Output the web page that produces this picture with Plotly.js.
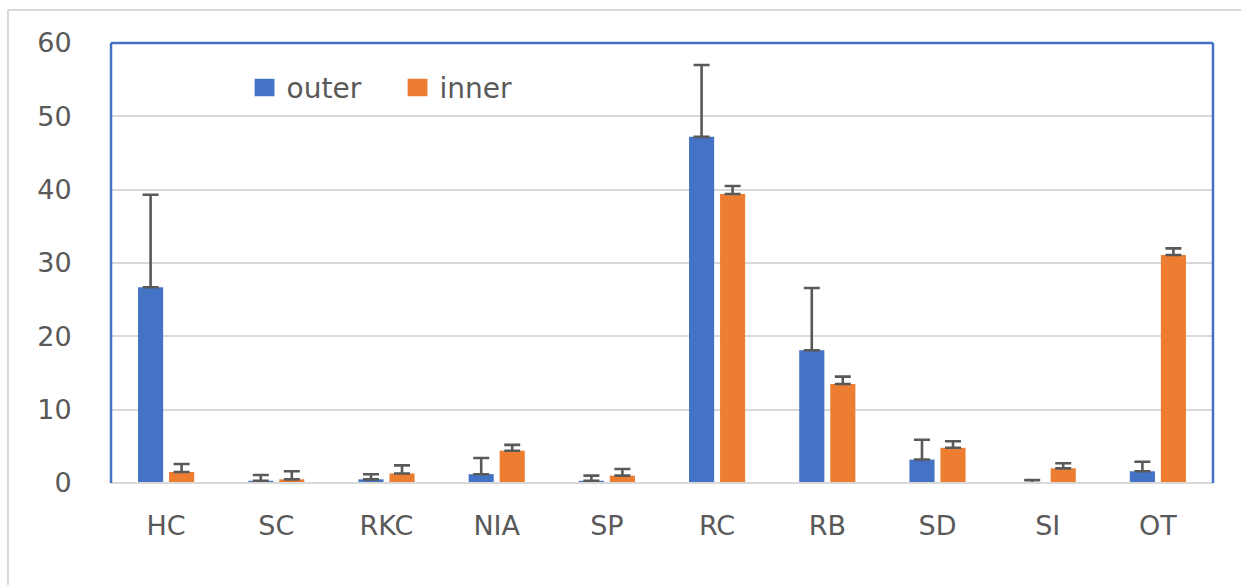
<!DOCTYPE html>
<html>
<head>
<meta charset="utf-8">
<script src="https://cdn.plot.ly/plotly-3.0.1.min.js"></script>
<style>
html,body{margin:0;padding:0;background:#fff;}
#chart{width:1241px;height:585px;}
#chart .legendpoints path{transform-box:fill-box;transform-origin:center;scale:1.65 1.45;translate:-15px 0;}
</style>
</head>
<body>
<div id="chart"></div>
<script>
var categories = ["HC", "SC", "RKC", "NIA", "SP", "RC", "RB", "SD", "SI", "OT"];
var outerValues = [26.7, 0.3, 0.5, 1.2, 0.3, 47.2, 18.1, 3.2, 0.0, 1.6];
var outerErrors = [12.6, 0.8, 0.7, 2.2, 0.7, 9.8, 8.5, 2.7, 0.4, 1.3];
var innerValues = [1.5, 0.5, 1.3, 4.4, 1.0, 39.4, 13.5, 4.8, 2.0, 31.1];
var innerErrors = [1.1, 1.1, 1.1, 0.8, 0.9, 1.1, 1.0, 0.9, 0.7, 0.9];
var yTicks = [0, 10, 20, 30, 40, 50, 60];

var FONT = "DejaVu Sans, sans-serif";
var errStyle = {type: "data", symmetric: false, color: "#595959", thickness: 2.6, width: 8};

var traces = [
  {type: "bar", name: "outer", x: categories, y: outerValues,
   marker: {color: "#4472C4"},
   error_y: Object.assign({}, errStyle, {array: outerErrors, arrayminus: outerValues.map(function(){return 0;})})},
  {type: "bar", name: "inner", x: categories, y: innerValues,
   marker: {color: "#ED7D31"},
   error_y: Object.assign({}, errStyle, {array: innerErrors, arrayminus: innerValues.map(function(){return 0;})})}
];

var layout = {
  width: 1241, height: 585,
  margin: {l: 111, r: 28, t: 43, b: 102},
  paper_bgcolor: "#ffffff", plot_bgcolor: "#ffffff",
  barmode: "group", bargap: 0.437, bargroupgap: 0.19,
  showlegend: true,
  hovermode: false,
  legend: {orientation: "h", x: 0.123, y: 0.955, xanchor: "left", yanchor: "top",
           font: {family: FONT, size: 28, color: "#595959"}, bgcolor: "rgba(0,0,0,0)",
           itemwidth: 30, entrywidth: 108, tracegroupgap: 0},
  xaxis: {type: "category", showgrid: false, zeroline: false, showline: false,
          ticks: "outside", ticklen: 19, tickcolor: "rgba(0,0,0,0)",
          tickfont: {family: FONT, size: 27, color: "#595959"}},
  yaxis: {range: [0, 60], tickvals: yTicks, ticktext: yTicks.map(String),
          showgrid: true, gridcolor: "#d9d9d9", gridwidth: 2, zeroline: false, showline: false,
          ticks: "outside", ticklen: 33, tickcolor: "rgba(0,0,0,0)",
          tickfont: {family: FONT, size: 27, color: "#595959"}},
  shapes: [
    {type: "line", xref: "paper", yref: "paper", x0: 0, x1: 1, y0: 0, y1: 0, line: {color: "#d9d9d9", width: 2}},
    {type: "line", xref: "paper", yref: "paper", x0: 0, x1: 0, y0: 0, y1: 1, line: {color: "#4472C4", width: 2.5}},
    {type: "line", xref: "paper", yref: "paper", x0: 0, x1: 1, y0: 1, y1: 1, line: {color: "#4472C4", width: 2.5}},
    {type: "line", xref: "paper", yref: "paper", x0: 1, x1: 1, y0: 0, y1: 1, line: {color: "#4472C4", width: 2.5}},
    {type: "line", xref: "paper", yref: "paper", x0: -0.0935, x1: 1.03, y0: 1.075, y1: 1.075, line: {color: "#d9d9d9", width: 2}},
    {type: "line", xref: "paper", yref: "paper", x0: -0.0935, x1: -0.0935, y0: 1.075, y1: -0.24, line: {color: "#d9d9d9", width: 2}}
  ]
};

Plotly.newPlot("chart", traces, layout, {displayModeBar: false, staticPlot: true});
</script>
</body>
</html>
